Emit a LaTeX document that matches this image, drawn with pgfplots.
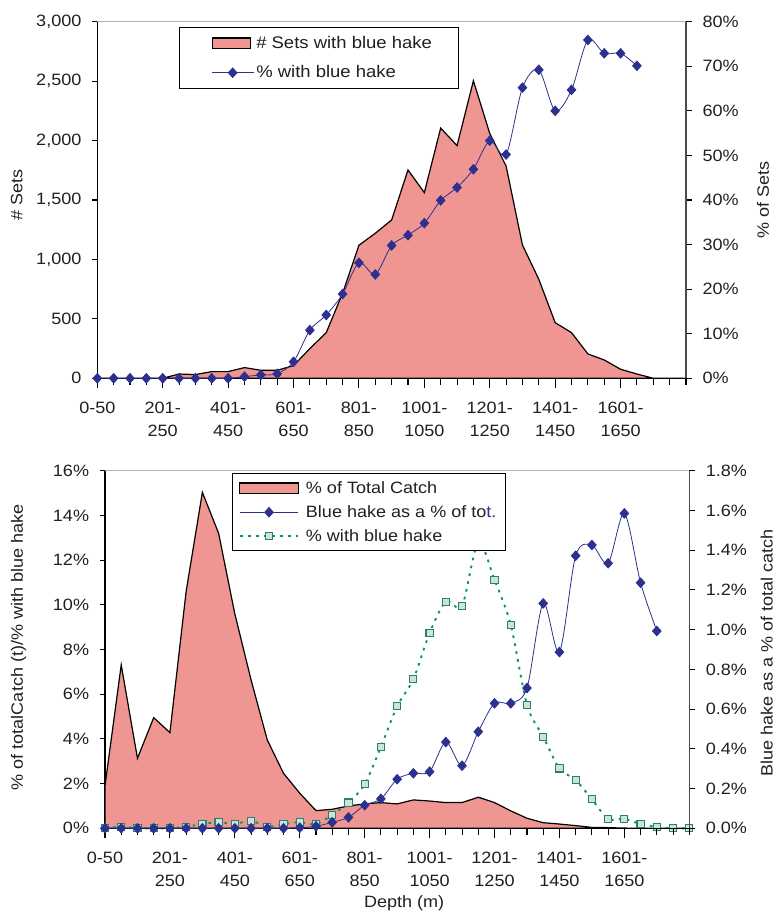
\documentclass[border=0pt]{standalone}
\usepackage{pgfplots}
\usepackage{pgfplotstable}
\pgfplotsset{compat=1.18}
\usepackage{fontspec}
\setmainfont{Liberation Sans}[FakeStretch=1.1]
\definecolor{salmon}{RGB}{240,150,146}
\definecolor{navy}{RGB}{44,48,142}
\definecolor{mint}{RGB}{200,230,214}
\definecolor{teal2}{RGB}{45,125,115}
\definecolor{grn}{RGB}{0,155,75}
\definecolor{txt}{RGB}{35,31,32}

\pgfplotstableread{
i v
0 0
1 0
2 0
3 0
4 0
5 36
6 31
7 56
8 56
9 90
10 67
11 67
12 107
13 250
14 384
15 715
16 1119
17 1220
18 1332
19 1752
20 1562
21 2105
22 1957
23 2503
24 2060
25 1785
26 1121
27 833
28 468
29 384
30 205
31 154
32 76
33 36
34 0
35 0
36 0
}\topsets

\pgfplotstableread{
i v
0 0
1 0
2 0
3 0
4 0
5 0
6 0
7 0
8 0
9 0.37
10 0.75
11 1.0
12 3.7
13 10.8
14 14.2
15 18.9
16 25.9
17 23.3
18 29.8
19 32.1
20 34.8
21 39.9
22 42.8
23 46.9
24 53.3
25 50.2
26 65.2
27 69.2
28 60.0
29 64.7
30 75.9
31 72.9
32 72.9
33 70.1
}\toppct

\pgfplotstableread{
i v
0 1.9
1 7.31
2 3.13
3 4.95
4 4.28
5 10.6
6 15.03
7 13.2
8 9.59
9 6.64
10 3.95
11 2.46
12 1.57
13 0.79
14 0.85
15 1.0
16 1.09
17 1.15
18 1.09
19 1.27
20 1.22
21 1.15
22 1.15
23 1.39
24 1.15
25 0.78
26 0.45
27 0.25
28 0.19
29 0.12
30 0.04
31 0.03
32 0.01
33 0
34 0
35 0
36 0
}\botcatch

\pgfplotstableread{
i v
0 0
1 0
2 0
3 0
4 0
5 0
6 0
7 0
8 0
9 0
10 0
11 0
12 0.003
13 0.01
14 0.03
15 0.055
16 0.116
17 0.148
18 0.247
19 0.277
20 0.285
21 0.434
22 0.315
23 0.486
24 0.629
25 0.629
26 0.706
27 1.132
28 0.887
29 1.372
30 1.426
31 1.334
32 1.585
33 1.236
34 0.993
}\botblue

\pgfplotstableread{
i v
0 0
1 0.07
2 0
3 0
4 0
5 0.07
6 0.19
7 0.27
8 0.19
9 0.34
10 0.07
11 0.19
12 0.27
13 0.19
14 0.60
15 1.15
16 1.97
17 3.64
18 5.46
19 6.67
20 8.74
21 10.14
22 9.96
23 12.8
24 11.11
25 9.10
26 5.52
27 4.10
28 2.68
29 2.16
30 1.30
31 0.42
32 0.42
33 0.19
34 0.07
35 0
36 0
}\botgreen

\pgfplotsset{
  panel/.style={scale only axis, xmin=0, xmax=36, clip=false, tick align=outside,
    font=\fontsize{12.3}{14.5}\selectfont,
    tick label style={text=txt}, label style={text=txt},
    axis line style={line width=0.8pt}, tick style={line width=0.8pt, black}},
  toppanel/.style={panel, at={(72.98pt,403.28pt)}, anchor=south west, width=441.5pt, height=267.45pt},
  botpanel/.style={panel, at={(78.75pt,65.78pt)}, anchor=south west, width=438.2pt, height=268.2pt},
  leftY/.style={axis x line=none, axis y line*=left, major tick length=3.75pt,
    yticklabel style={inner xsep=0pt, xshift=-8pt}},
  rightY/.style={axis x line=none, axis y line*=right, major tick length=4.25pt,
    axis line style={gray!60!black},
    yticklabel style={inner xsep=0pt, xshift=8pt}},
  xaxisonly/.style={ymin=0, ymax=1, axis y line=none, axis x line*=bottom,
    xtick={0,4,...,32},
    xticklabels={0-50,{201-\\250},{401-\\450},{601-\\650},{801-\\850},{1001-\\1050},{1201-\\1250},{1401-\\1450},{1601-\\1650}},
    minor xtick={0,...,36}, major tick length=7.5pt, minor tick length=5pt,
    xticklabel style={align=center, font=\fontsize{12.3}{17}\selectfont, inner ysep=0pt, yshift=-10pt}},
  bluel/.style={navy, line width=0.6pt, smooth, mark=diamond*, mark size=3.6pt,
    mark options={xscale=1.2, fill=navy, solid}},
  lineleg/.style={legend image code/.code={\draw[mark repeat=2, mark phase=2, ##1] plot coordinates {(0pt,0pt) (#1/2,0pt) (#1,0pt)};}},
  arealeg/.style={legend image code/.code={\draw[##1] (0pt,-4pt) rectangle (#1,4pt);}},
  padlineleg/.style={legend image code/.code={\path (-6pt,0pt); \draw[mark repeat=2, mark phase=2, ##1] plot coordinates {(0pt,0pt) (#1/2,0pt) (#1,0pt)};}},
  padarealeg/.style={legend image code/.code={\path (-6pt,0pt); \draw[##1] (0pt,-4pt) rectangle (#1,4pt);}},
}

\begin{document}
\begin{tikzpicture}
\useasboundingbox (0,0) rectangle (582pt,687pt);

% ---------- top panel ----------
\begin{axis}[toppanel, leftY, ymin=0, ymax=3000,
  ytick={0,500,...,3000}, yticklabels={0,500,{1,000},{1,500},{2,000},{2,500},{3,000}},
  ylabel={\# Sets}, ylabel style={at={(axis description cs:-0.137,0.514)}, anchor=center}]
\addplot[fill=salmon, draw=black, line width=0.9pt] table[x=i,y=v]{\topsets} \closedcycle;
\draw[gray!60, line width=0.8pt] (rel axis cs:0,1) -- (rel axis cs:1,1);
\end{axis}
\begin{axis}[toppanel, xaxisonly]
\end{axis}
\begin{axis}[toppanel, rightY, ymin=0, ymax=80,
  ytick={0,10,...,80}, yticklabels={0\%,10\%,20\%,30\%,40\%,50\%,60\%,70\%,80\%},
  ylabel={\% of Sets}, ylabel style={at={(axis description cs:1.131,0.5)}, anchor=center},
  legend cell align=left,
  legend style={at={(rel axis cs:0.139,0.986)}, anchor=north west, draw=black, fill=white,
    line width=0.6pt, inner xsep=18pt, inner ysep=4.8pt, row sep=7.5pt, column sep=0pt,
    font=\fontsize{12.6}{15}\selectfont,
    nodes={inner sep=2pt, text=txt}}]
\addlegendimage{fill=salmon, draw=black, line width=0.9pt, padarealeg=29pt}
\addlegendentry{\# Sets with blue hake}
\addplot[bluel, padlineleg=30.8pt] table[x=i,y=v]{\toppct};
\addlegendentry{\% with blue hake}
\end{axis}

% ---------- bottom panel ----------
\begin{axis}[botpanel, leftY, ymin=0, ymax=16,
  ytick={0,2,...,16}, yticklabels={0\%,2\%,4\%,6\%,8\%,10\%,12\%,14\%,16\%},
  ylabel={\% of totalCatch (t)/\% with blue hake},
  ylabel style={at={(axis description cs:-0.148,0.506)}, anchor=center}]
\addplot[fill=salmon, draw=black, line width=0.9pt] table[x=i,y=v]{\botcatch} \closedcycle;
\addplot[grn, line width=1.4pt, smooth, dash pattern=on 2pt off 4pt,
  mark=square*, mark size=2.7pt, mark options={fill=mint, draw=teal2, line width=0.8pt, solid}]
  table[x=i,y=v]{\botgreen};
\draw[gray!60, line width=0.8pt] (rel axis cs:0,1) -- (rel axis cs:1,1);
\end{axis}
\begin{axis}[botpanel, xaxisonly, xlabel={Depth (m)},
  xlabel style={at={(axis description cs:0.512,-0.209)}, anchor=center}]
\end{axis}
\begin{axis}[botpanel, rightY, ymin=0, ymax=1.8,
  ytick={0,0.2,0.4,0.6,0.8,1.0,1.2,1.4,1.6,1.8},
  yticklabels={0.0\%,0.2\%,0.4\%,0.6\%,0.8\%,1.0\%,1.2\%,1.4\%,1.6\%,1.8\%},
  ylabel={Blue hake as a \% of total catch},
  ylabel style={at={(axis description cs:1.1325,0.49)}, anchor=center},
  legend cell align=left,
  legend style={at={(rel axis cs:0.2168,0.9927)}, anchor=north west, draw=black, fill=white,
    line width=0.6pt, inner xsep=5pt, inner ysep=3.8pt, row sep=3.5pt, column sep=3pt,
    nodes={inner sep=2pt, text=txt}}]
\addlegendimage{fill=salmon, draw=black, line width=0.9pt, arealeg=44pt}
\addlegendentry{\% of Total Catch}
\addplot[bluel, lineleg=44pt] table[x=i,y=v]{\botblue};
\addlegendentry{Blue hake as a \% of to\textcolor{navy}{t.}}
\addlegendimage{grn, line width=1.4pt, dash pattern=on 2.5pt off 3.5pt,
  mark=square*, mark size=2.7pt, mark options={fill=mint, draw=teal2, line width=0.8pt, solid},
  lineleg=44pt}
\addlegendentry{\% with blue hake}
\end{axis}
\end{tikzpicture}
\end{document}
